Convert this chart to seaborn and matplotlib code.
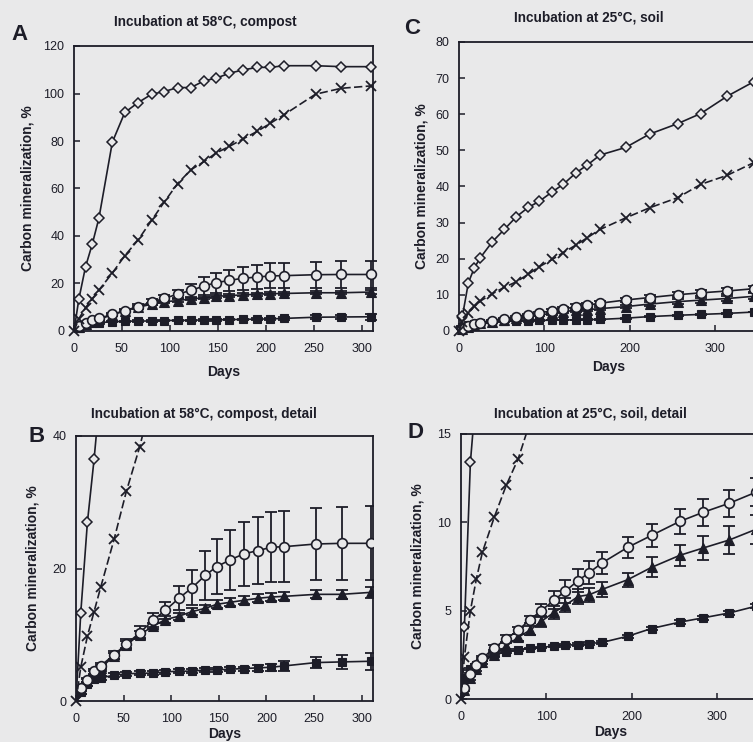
import matplotlib
matplotlib.use('Agg')
import matplotlib.pyplot as plt
import seaborn as sns

# sampling days
days_compost = [0, 5, 12, 19, 26, 40, 53, 67, 81, 94, 108, 122, 136, 148, 162, 176, 191, 205, 219, 252, 279, 310]
days_soil = [0, 4, 11, 18, 25, 39, 53, 67, 81, 94, 109, 122, 137, 150, 165, 195, 223, 256, 283, 314, 345]

# compost, 58 C
diamond_compost = [0, 13.3, 27.0, 36.5, 47.5, 79.5, 92.0, 96.2, 99.7, 100.8, 102.5, 102.5, 105.4, 106.4,
                   108.5, 109.9, 111.0, 111.0, 111.7, 111.7, 111.3, 111.3]
cross_compost = [0, 5.1, 9.8, 13.5, 17.2, 24.4, 31.7, 38.4, 46.6, 54.2, 62.0, 67.9, 71.4, 74.9,
                 77.7, 80.8, 84.0, 87.5, 91.0, 99.7, 102.2, 103.2]
circle_compost = [0, 2.0, 3.2, 4.5, 5.3, 7.0, 8.6, 10.3, 12.2, 13.7, 15.5, 17.1, 19.0, 20.3,
                  21.3, 22.2, 22.7, 23.2, 23.3, 23.7, 23.8, 23.8]
circle_compost_err = [0, 0.2, 0.3, 0.4, 0.5, 0.6, 0.8, 1.0, 1.1, 1.3, 1.8, 2.6, 3.7, 4.1,
                      4.5, 4.8, 5.0, 5.3, 5.4, 5.5, 5.5, 5.6]
triangle_compost = [0, 1.8, 3.0, 4.3, 5.0, 6.8, 8.5, 10.0, 11.3, 12.3, 12.8, 13.5, 14.0, 14.6,
                    14.9, 15.2, 15.5, 15.7, 15.8, 16.1, 16.1, 16.4]
triangle_compost_err = [0, 0.2, 0.3, 0.3, 0.4, 0.4, 0.5, 0.5, 0.5, 0.5, 0.5, 0.5, 0.5, 0.6,
                        0.6, 0.6, 0.6, 0.6, 0.6, 0.6, 0.7, 0.8]
square_compost = [0, 1.3, 2.5, 3.3, 3.5, 3.9, 4.1, 4.2, 4.2, 4.4, 4.5, 4.5, 4.7, 4.7,
                  4.8, 4.9, 5.0, 5.1, 5.3, 5.8, 5.9, 6.0]
square_compost_err = [0, 0.2, 0.3, 0.3, 0.3, 0.3, 0.3, 0.3, 0.3, 0.3, 0.3, 0.3, 0.3, 0.3,
                      0.3, 0.3, 0.4, 0.5, 0.7, 0.8, 1.0, 1.3]

# soil, 25 C
diamond_soil = [0, 4.1, 13.4, 17.5, 20.3, 24.7, 28.1, 31.6, 34.2, 35.9, 38.5, 40.6, 43.8, 45.9,
                48.7, 50.8, 54.5, 57.4, 60.2, 65.0, 69.0]
cross_soil = [0, 2.4, 5.0, 6.8, 8.3, 10.3, 12.1, 13.6, 15.7, 17.8, 19.8, 21.7, 23.8, 25.8,
              28.1, 31.3, 34.1, 36.9, 40.6, 43.1, 46.6]
circle_soil = [0, 0.6, 1.4, 1.9, 2.3, 2.9, 3.4, 3.9, 4.5, 5.0, 5.6, 6.1, 6.7, 7.15,
               7.7, 8.58, 9.26, 10.05, 10.56, 11.08, 11.7]
circle_soil_err = [0, 0.05, 0.1, 0.1, 0.15, 0.15, 0.2, 0.2, 0.2, 0.38, 0.52, 0.64, 0.66, 0.66,
                   0.63, 0.61, 0.64, 0.7, 0.75, 0.75, 0.8]
triangle_soil = [0, 0.5, 1.2, 1.7, 2.1, 2.5, 3.0, 3.5, 3.9, 4.4, 4.9, 5.3, 5.8, 5.9,
                 6.2, 6.75, 7.45, 8.13, 8.54, 9.0, 9.6]
triangle_soil_err = [0, 0.05, 0.1, 0.1, 0.1, 0.15, 0.15, 0.2, 0.25, 0.3, 0.35, 0.4, 0.45, 0.4,
                     0.4, 0.41, 0.56, 0.61, 0.66, 0.8, 0.8]
square_soil = [0, 1.2, 1.7, 1.95, 2.25, 2.5, 2.67, 2.77, 2.86, 2.92, 3.0, 3.05, 3.07, 3.14,
               3.2, 3.55, 3.99, 4.35, 4.59, 4.87, 5.25]
square_soil_err = [0, 0.05, 0.05, 0.05, 0.05, 0.05, 0.05, 0.05, 0.05, 0.05, 0.08, 0.08, 0.08, 0.08,
                   0.08, 0.1, 0.1, 0.1, 0.12, 0.12, 0.12]

BG = '#e9e9ea'
INK = '#1d1d28'
W, H = 753, 742

sns.set_style('ticks')
plt.rcParams['font.family'] = ['Liberation Sans', 'DejaVu Sans']

fig = plt.figure(figsize=(W / 100, H / 100), dpi=100, facecolor=BG)


def px_axes(left, top, width, height):
    # axes placed by pixel box of the scan
    return fig.add_axes([left / W, 1 - (top + height) / H, width / W, height / H])


def draw_panel(ax, days, diamond, cross, circle, circle_err, tri, tri_err, sq, sq_err, clip):
    ax.set_facecolor(BG)
    # error bars first, markers on top
    for vals, err in [(circle, circle_err), (tri, tri_err), (sq, sq_err)]:
        ax.errorbar(days[1:], vals[1:], yerr=err[1:], fmt='none', ecolor=INK,
                    elinewidth=1.3, capsize=4, capthick=1.3, zorder=2, clip_on=clip)
    common = dict(ax=ax, color=INK, estimator=None, errorbar=None, linewidth=1.2,
                  markeredgecolor=INK, clip_on=clip, zorder=3)
    sns.lineplot(x=days, y=sq, marker='s', markersize=5.5, markerfacecolor=INK,
                 markeredgewidth=0.8, markevery=slice(1, None), **common)
    sns.lineplot(x=days, y=tri, marker='^', markersize=6.5, markerfacecolor=INK,
                 markeredgewidth=0.8, markevery=slice(1, None), **common)
    sns.lineplot(x=days, y=circle, marker='o', markersize=7, markerfacecolor=BG,
                 markeredgewidth=1.2, markevery=slice(1, None), **common)
    sns.lineplot(x=days, y=diamond, marker='D', markersize=4.6, markerfacecolor=BG,
                 markeredgewidth=1.1, markevery=slice(1, None), **common)
    sns.lineplot(x=days, y=cross, marker='x', markersize=7, markeredgewidth=1.3,
                 linestyle=(0, (5, 2)), **common)
    if clip:
        # the cross at the origin sticks out of the frame
        ax.plot(days[:1], cross[:1], marker='x', markersize=7, markeredgewidth=1.3,
                color=INK, linestyle='none', clip_on=False, zorder=4)
    for s in ax.spines.values():
        s.set_color(INK)
        s.set_linewidth(1.3)
    ax.tick_params(direction='in', length=4, width=1.1, color=INK, labelsize=9,
                   labelcolor=INK, top=False, right=False)
    ax.tick_params(axis='y', pad=7)
    ax.tick_params(axis='x', pad=9)


ax_a = px_axes(74, 46, 299, 285)
ax_b = px_axes(76, 436, 297, 265)
ax_c = px_axes(459, 42, 299, 289)
ax_d = px_axes(461, 434, 299, 265)

draw_panel(ax_a, days_compost, diamond_compost, cross_compost, circle_compost, circle_compost_err,
           triangle_compost, triangle_compost_err, square_compost, square_compost_err, clip=False)
draw_panel(ax_b, days_compost, diamond_compost, cross_compost, circle_compost, circle_compost_err,
           triangle_compost, triangle_compost_err, square_compost, square_compost_err, clip=True)
draw_panel(ax_c, days_soil, diamond_soil, cross_soil, circle_soil, circle_soil_err,
           triangle_soil, triangle_soil_err, square_soil, square_soil_err, clip=False)
draw_panel(ax_d, days_soil, diamond_soil, cross_soil, circle_soil, circle_soil_err,
           triangle_soil, triangle_soil_err, square_soil, square_soil_err, clip=True)

# axis ranges
for ax in (ax_a, ax_b):
    ax.set_xlim(0, 312)
    ax.set_xticks(range(0, 301, 50))
for ax in (ax_c, ax_d):
    ax.set_xlim(0, 350)
    ax.set_xticks(range(0, 301, 100))
ax_a.set_ylim(0, 120)
ax_a.set_yticks(range(0, 121, 20))
ax_b.set_ylim(0, 40)
ax_b.set_yticks([0, 20, 40])
ax_c.set_ylim(0, 80)
ax_c.set_yticks(range(0, 81, 10))
ax_d.set_ylim(0, 15)
ax_d.set_yticks([0, 5, 10, 15])

# labels
label_pos = {ax_a: (-0.157, -0.144), ax_b: (-0.145, -0.125),
             ax_c: (-0.124, -0.125), ax_d: (-0.144, -0.125)}
for ax, (yx, xy) in label_pos.items():
    ax.set_ylabel('Carbon mineralization, %', fontsize=10, fontweight='bold', color=INK, va='center')
    ax.set_xlabel('Days', fontsize=10, fontweight='bold', color=INK, va='center')
    ax.yaxis.set_label_coords(yx, 0.5)
    ax.xaxis.set_label_coords(0.5, xy)

titles = [('Incubation at 58°C, compost', 205, 22), ('Incubation at 58°C, compost, detail', 203.5, 414),
          ('Incubation at 25°C, soil', 589, 18), ('Incubation at 25°C, soil, detail', 590.5, 413)]
for text, x, y in titles:
    fig.text(x / W, 1 - y / H, text, fontsize=9.8, fontweight='bold', color=INK, ha='center', va='center')

letters = [('A', 20, 35), ('B', 37, 436), ('C', 412, 29), ('D', 416, 432)]
for text, x, y in letters:
    fig.text(x / W, 1 - y / H, text, fontsize=16, fontweight='bold', color=INK, ha='center', va='center')

fig.savefig('out.png', dpi=100, facecolor=BG)
